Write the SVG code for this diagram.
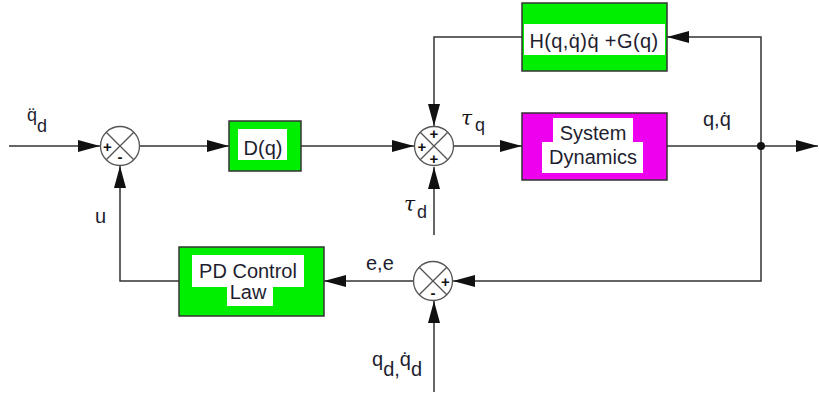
<svg xmlns="http://www.w3.org/2000/svg" width="819" height="395" viewBox="0 0 819 395">
<defs>
<marker id="arr" markerUnits="userSpaceOnUse" markerWidth="22" markerHeight="12" refX="22" refY="6" orient="auto">
<path d="M0,0 L22,6 L0,12 z" fill="#111"/>
</marker>
<style>
.w{stroke:#333;stroke-width:1.5;fill:none}
.a{marker-end:url(#arr)}
.box{stroke:#333;stroke-width:1.5}
.g{fill:#00EE00}
.m{fill:#EE00EE}
.lbl{fill:#fff}
.t{font-family:"Liberation Sans",Arial,sans-serif;font-size:20px;fill:#1e1e30}
.c{text-anchor:middle}
.sum circle{fill:#fff;stroke:#555;stroke-width:1.3}
.sum line{stroke:#555;stroke-width:1.3}
.s{font-family:"Liberation Sans",Arial,sans-serif;font-size:15px;font-weight:bold;fill:#111;text-anchor:middle}
.tau{font-family:"DejaVu Serif","Liberation Serif",serif;font-style:italic;font-size:20px;fill:#111}
</style>
</defs>
<rect width="819" height="395" fill="#fff"/>

<g id="connectors">
<path class="w a" d="M9,146 H100"/>
<path class="w a" d="M140,146 H229"/>
<path class="w a" d="M301,146 H414"/>
<path class="w a" d="M454,146 H522"/>
<path class="w a" d="M667,146 H818"/>
<path class="w a" d="M761,146 V37 H667"/>
<path class="w a" d="M522,37 H434 V126"/>
<path class="w a" d="M434,235 V167"/>
<path class="w a" d="M761,146 V281 H453"/>
<path class="w a" d="M413,281 H324"/>
<path class="w a" d="M179,281 H120 V166"/>
<path class="w a" d="M434,392 V301"/>
<circle cx="761" cy="146" r="4" fill="#111"/>
</g>

<g id="sum1" class="sum">
<circle cx="120" cy="146" r="19.5"/>
<line x1="106.2" y1="132.2" x2="133.8" y2="159.8"/>
<line x1="133.8" y1="132.2" x2="106.2" y2="159.8"/>
<text class="s" x="107.5" y="151.5">+</text>
<text class="s" x="120" y="162">-</text>
</g>

<g id="sum2" class="sum">
<circle cx="434" cy="146" r="19.5"/>
<line x1="420.2" y1="132.2" x2="447.8" y2="159.8"/>
<line x1="447.8" y1="132.2" x2="420.2" y2="159.8"/>
<text class="s" x="434" y="139">+</text>
<text class="s" x="422" y="151.5">+</text>
<text class="s" x="434" y="164">+</text>
</g>

<g id="sum3" class="sum">
<circle cx="433" cy="281" r="19.5"/>
<line x1="419.2" y1="267.2" x2="446.8" y2="294.8"/>
<line x1="446.8" y1="267.2" x2="419.2" y2="294.8"/>
<text class="s" x="445.5" y="286.5">+</text>
<text class="s" x="433" y="298">-</text>
</g>

<g id="D">
<rect class="box g" x="229" y="121" width="72" height="50"/>
<rect class="lbl" x="238" y="129" width="49" height="31"/>
<text class="t c" x="263" y="155">D(q)</text>
</g>

<g id="H">
<rect class="box g" x="522" y="3" width="145" height="68"/>
<rect class="lbl" x="524" y="24" width="141" height="31"/>
<text class="t c" x="594" y="48" style="letter-spacing:0.4px">H(q,q̇)q̇ +G(q)</text>
</g>

<g id="SystemDynamics">
<rect class="box m" x="522" y="113" width="145" height="67"/>
<rect class="lbl" x="553" y="118" width="80" height="25"/>
<rect class="lbl" x="542" y="142" width="101" height="31"/>
<text class="t c" x="593" y="140">System</text>
<text class="t c" x="593" y="164">Dynamics</text>
</g>

<g id="PD">
<rect class="box g" x="179" y="247" width="145" height="69"/>
<rect class="lbl" x="192" y="255" width="112" height="32"/>
<rect class="lbl" x="227" y="286" width="46" height="20"/>
<text class="t c" x="248" y="278">PD Control</text>
<text class="t c" x="248" y="299">Law</text>
</g>

<g id="labels">
<text class="t" x="27" y="121" style="font-size:18px">q̈<tspan dy="11">d</tspan></text>
<text class="tau" x="461" y="125">τ</text>
<text class="t" x="475" y="131" style="font-size:18px">q</text>
<text class="t" x="703" y="126">q,q̇</text>
<text class="tau" x="404" y="211">τ</text>
<text class="t" x="417" y="218" style="font-size:18px">d</text>
<text class="t" x="95" y="223">u</text>
<text class="t" x="366" y="270">e,e</text>
<text class="t" x="372" y="366">q<tspan dy="10">d,</tspan><tspan dy="-10">q̇</tspan><tspan dy="10">d</tspan></text>
</g>
</svg>
